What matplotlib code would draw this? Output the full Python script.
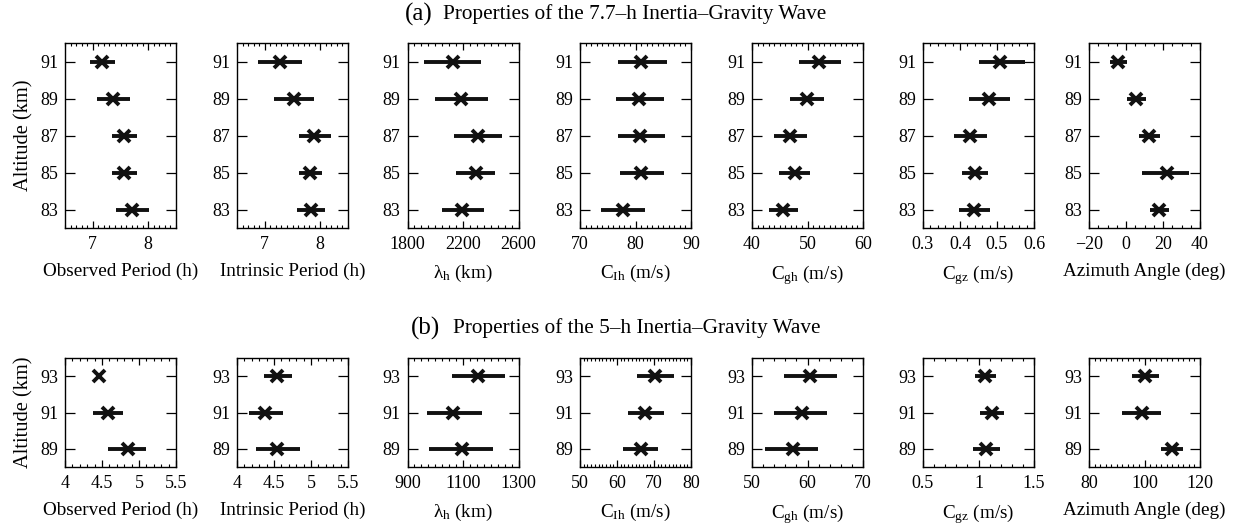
import numpy as np
import matplotlib
matplotlib.use('Agg')
import matplotlib.pyplot as plt
from matplotlib.ticker import MultipleLocator, FixedLocator

plt.rcParams['font.family'] = ['Liberation Serif', 'DejaVu Serif']
plt.rcParams['mathtext.fontset'] = 'custom'
plt.rcParams['mathtext.rm'] = 'Liberation Serif'
fsize = 13

# ---- (a) 7.7-h wave, altitudes 83-91 km ----
alt_a = [83, 85, 87, 89, 91]
obs_a = [7.71, 7.56, 7.57, 7.36, 7.16]
obs_a_lo = [7.41, 7.35, 7.34, 7.07, 6.95]
obs_a_hi = [8.01, 7.79, 7.80, 7.67, 7.40]
intr_a = [7.83, 7.82, 7.89, 7.52, 7.28]
intr_a_lo = [7.58, 7.62, 7.61, 7.17, 6.87]
intr_a_hi = [8.09, 8.04, 8.19, 7.88, 7.68]
lam_a = [2196, 2292, 2309, 2189, 2130]
lam_a_lo = [2046, 2146, 2134, 1998, 1919]
lam_a_hi = [2352, 2433, 2483, 2380, 2332]
cih_a = [77.8, 81.0, 80.8, 80.6, 81.0]
cih_a_lo = [73.8, 77.2, 76.8, 76.4, 76.8]
cih_a_hi = [81.8, 85.2, 85.3, 85.2, 85.6]
cgh_a = [45.6, 47.7, 46.9, 49.9, 52.0]
cgh_a_lo = [43.0, 44.9, 44.0, 46.8, 48.4]
cgh_a_hi = [48.2, 50.4, 49.9, 53.0, 56.0]
cgz_a = [0.438, 0.441, 0.427, 0.479, 0.509]
cgz_a_lo = [0.398, 0.405, 0.384, 0.425, 0.450]
cgz_a_hi = [0.480, 0.477, 0.473, 0.534, 0.577]
azi_a = [17.8, 22.0, 12.3, 5.5, -4.1]
azi_a_lo = [13.2, 8.6, 6.8, 0.8, -8.7]
azi_a_hi = [23.2, 34.2, 18.3, 10.6, 0.8]

# ---- (b) 5-h wave, altitudes 89-93 km ----
alt_b = [89, 91, 93]
obs_b = [4.855, 4.585, 4.465]
obs_b_lo = [4.585, 4.38, 4.43]
obs_b_hi = [5.10, 4.79, 4.50]
intr_b = [4.54, 4.38, 4.54]
intr_b_lo = [4.25, 4.16, 4.36]
intr_b_hi = [4.85, 4.62, 4.74]
lam_b = [1095, 1065, 1154]
lam_b_lo = [979, 969, 1059]
lam_b_hi = [1208, 1170, 1250]
cih_b = [66.4, 67.5, 70.2]
cih_b_lo = [61.6, 62.9, 65.5]
cih_b_hi = [71.1, 72.7, 75.3]
cgh_b = [57.4, 59.0, 60.5]
cgh_b_lo = [52.3, 54.0, 55.7]
cgh_b_hi = [61.9, 63.5, 65.4]
cgz_b = [1.07, 1.12, 1.06]
cgz_b_lo = [0.95, 1.01, 0.97]
cgz_b_hi = [1.19, 1.23, 1.16]
azi_b = [110.0, 99.1, 100.3]
azi_b_lo = [106.0, 91.8, 95.4]
azi_b_hi = [113.9, 106.0, 105.2]

xlabels = ['Observed Period (h)', 'Intrinsic Period (h)', r'$\mathregular{\lambda_h}$ (km)',
           r'C$\mathregular{_{Ih}}$ (m/s)', r'C$\mathregular{_{gh}}$ (m/s)',
           r'C$\mathregular{_{gz}}$ (m/s)', 'Azimuth Angle (deg)']

rows = [
    dict(alt=alt_a, ylim=(82, 92), title='Properties of the 7.7\u2013h Inertia\u2013Gravity Wave', tag='(a)',
         vals=[(obs_a, obs_a_lo, obs_a_hi), (intr_a, intr_a_lo, intr_a_hi), (lam_a, lam_a_lo, lam_a_hi),
               (cih_a, cih_a_lo, cih_a_hi), (cgh_a, cgh_a_lo, cgh_a_hi), (cgz_a, cgz_a_lo, cgz_a_hi),
               (azi_a, azi_a_lo, azi_a_hi)],
         xlims=[(6.5, 8.5), (6.5, 8.5), (1800, 2600), (70, 90), (40, 60), (0.3, 0.6), (-20, 40)],
         xticks=[[7, 8], [7, 8], [1800, 2200, 2600], [70, 80, 90], [40, 50, 60], [0.3, 0.4, 0.5, 0.6], [-20, 0, 20, 40]],
         minors=[0.1, 0.1, 50, 1, 1, 0.02, 5]),
    dict(alt=alt_b, ylim=(88, 94), title='Properties of the 5\u2013h Inertia\u2013Gravity Wave', tag='(b)',
         vals=[(obs_b, obs_b_lo, obs_b_hi), (intr_b, intr_b_lo, intr_b_hi), (lam_b, lam_b_lo, lam_b_hi),
               (cih_b, cih_b_lo, cih_b_hi), (cgh_b, cgh_b_lo, cgh_b_hi), (cgz_b, cgz_b_lo, cgz_b_hi),
               (azi_b, azi_b_lo, azi_b_hi)],
         xlims=[(4, 5.5), (4, 5.5), (900, 1300), (50, 80), (50, 70), (0.5, 1.5), (80, 120)],
         xticks=[[4, 4.5, 5, 5.5], [4, 4.5, 5, 5.5], [900, 1100, 1300], [50, 60, 70, 80], [50, 60, 70],
                 [0.5, 1, 1.5], [80, 100, 120]],
         minors=[0.1, 0.1, 25, 1, 2, 0.1, 2]),
]

W, H = 1240, 529
lefts = [65, 237, 407.5, 580, 752, 923, 1089]
width = 111
row_px = [(43, 228), (358, 467)]
title_y = [14, 328]
tag_right = [433, 440]
title_left = [443, 453]

fig = plt.figure(figsize=(12.4, 5.29), dpi=100)

for r, row in enumerate(rows):
    top, bot = row_px[r]
    for i in range(7):
        ax = fig.add_axes([lefts[i] / W, 1 - bot / H, width / W, (bot - top) / H])
        v, lo, hi = row['vals'][i]
        v = np.array(v); lo = np.array(lo); hi = np.array(hi)
        ax.errorbar(v, row['alt'], xerr=[v - lo, hi - v], fmt='x', color='#111111',
                    ecolor='#111111', elinewidth=2.8, capsize=0, ms=9, mew=2.8)
        ax.set_xlim(row['xlims'][i])
        ax.set_ylim(row['ylim'])
        ax.xaxis.set_major_locator(FixedLocator(row['xticks'][i]))
        ax.xaxis.set_minor_locator(MultipleLocator(row['minors'][i]))
        ax.set_yticks(row['alt'])
        ax.tick_params(axis='x', which='major', direction='in', top=True, length=5, width=0.9,
                       labelsize=fsize, pad=6)
        ax.tick_params(axis='x', which='minor', direction='in', top=True, length=2.5, width=0.8)
        ax.tick_params(axis='y', which='major', direction='in', right=True, length=7.5, width=0.9,
                       labelsize=fsize, pad=5)
        ax.tick_params(axis='y', which='minor', left=False, right=False)
        ax.set_xticklabels([('%g' % t).replace('-', '\u2212') for t in row['xticks'][i]])
        ax.set_xlabel(xlabels[i], fontsize=13.8, labelpad=7)
        for s in ax.spines.values():
            s.set_linewidth(1.0)
        if i == 0:
            ax.set_ylabel('Altitude (km)', fontsize=14.8, labelpad=5)
    # panel heading: larger tag followed by the description
    fig.text(tag_right[r] / W, 1 - title_y[r] / H, row['tag'], ha='right', va='center', fontsize=18)
    fig.text(title_left[r] / W, 1 - title_y[r] / H, row['title'], ha='left', va='center', fontsize=15.3)

plt.savefig('out.png', dpi=100)
